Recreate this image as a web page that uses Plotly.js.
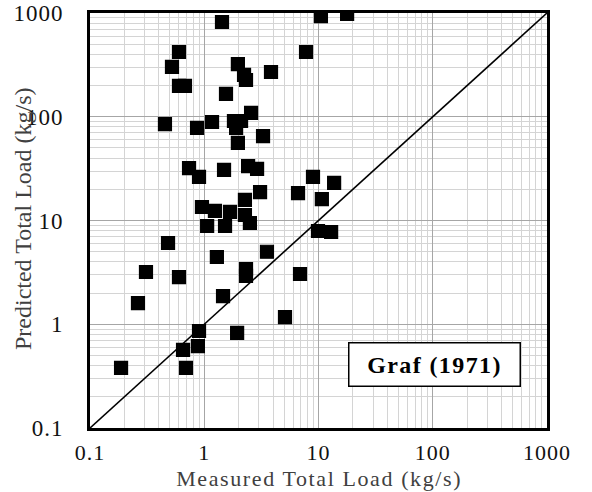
<!DOCTYPE html>
<html>
<head>
<meta charset="utf-8">
<script src="https://cdn.plot.ly/plotly-3.0.1.min.js"></script>
<style>
  html, body { margin: 0; padding: 0; background: #fff; }
  #chart { width: 592px; height: 492px; }
  /* slightly wider set for horizontal labels */
  #chart .xtick text, #chart .ytick text { letter-spacing: 1px; }
  #chart .annotation[data-index="0"] text { letter-spacing: 1.6px; }
  #chart .annotation[data-index="1"] text { letter-spacing: 1.4px; }
</style>
</head>
<body>
<div id="chart"></div>
<script>
// Measured vs predicted total sediment load, Graf (1971) formula
var measured = [
  1.43, 10.5, 17.8, 7.78, 0.601, 0.522, 0.601, 0.678, 1.97, 2.23,
  2.32, 3.84, 1.55, 0.453, 0.865, 1.17, 1.82, 2.10, 1.90, 2.57,
  3.27, 1.97, 0.736, 0.90, 1.49, 2.42, 2.90, 3.08, 8.95, 13.7,
  6.62, 10.7, 9.9, 12.9, 3.54, 2.32, 2.32, 6.89, 1.46, 5.09,
  1.94, 0.482, 1.29, 0.309, 0.601, 0.263, 0.90, 0.88, 0.652, 0.187,
  0.692, 0.955, 1.24, 1.68, 2.27, 2.27, 2.51, 1.06, 1.52
];
var predicted = [
  819, 935, 978, 421, 421, 302, 198, 198, 322, 253,
  226, 270, 166, 85, 78, 89, 91, 91, 78, 109,
  65, 56, 32, 26.3, 30.7, 33.5, 31.4, 18.8, 26.3, 23,
  18.4, 16.1, 7.92, 7.75, 5.0, 3.41, 2.92, 3.05, 1.87, 1.17,
  0.824, 6.07, 4.45, 3.19, 2.85, 1.60, 0.861, 0.616, 0.565, 0.379,
  0.379, 13.5, 12.4, 12.1, 15.8, 11.3, 9.46, 8.85, 8.85
];

// Line of perfect agreement spanning the axis range
var lineOfAgreement = [0.1, 1000];

var tickValues = [0.1, 1, 10, 100, 1000];
var tickLabels = ['0.1', '1', '10', '100', '1000'];

var xTitle = 'Measured Total Load (kg/s)';
var yTitle = 'Predicted Total Load (kg/s)';
var boxLabel = 'Graf (1971)';

var serif = 'Liberation Serif, Times New Roman, serif';

function logAxis(fontSize) {
  return {
    type: 'log',
    range: [-1, 3],
    tickvals: tickValues,
    ticktext: tickLabels,
    ticks: '',
    tickfont: { family: serif, size: fontSize, color: '#111' },
    showgrid: true,
    gridcolor: '#a6a6a6',
    gridwidth: 1,
    minor: { dtick: 'D1', showgrid: true, gridcolor: '#d4d4d4', gridwidth: 1, ticks: '' },
    showline: true,
    linecolor: '#000',
    linewidth: 3,
    mirror: true,
    zeroline: false,
    fixedrange: true
  };
}

var xaxis = logAxis(22);
xaxis.ticklabelstandoff = 3;
var yaxis = logAxis(23);
yaxis.ticklabelstandoff = 19;

var traces = [
  {
    x: lineOfAgreement,
    y: lineOfAgreement,
    mode: 'lines',
    line: { color: '#000', width: 1.6 },
    hoverinfo: 'skip',
    showlegend: false
  },
  {
    x: measured,
    y: predicted,
    mode: 'markers',
    marker: { symbol: 'square', size: 13, color: '#000', line: { color: '#000', width: 1.2 } },
    showlegend: false
  }
];

var layout = {
  width: 592,
  height: 492,
  margin: { l: 90, r: 45, t: 13, b: 64 },
  paper_bgcolor: '#fff',
  plot_bgcolor: '#fff',
  xaxis: xaxis,
  yaxis: yaxis,
  showlegend: false,
  annotations: [
    {
      // x-axis title
      xref: 'paper', yref: 'paper',
      x: 0.5, y: -0.122,
      xanchor: 'center', yanchor: 'middle',
      text: xTitle,
      showarrow: false,
      font: { family: serif, size: 22, color: '#404040' }
    },
    {
      // boxed formula label
      xref: 'paper', yref: 'paper',
      x: 0.753, y: 0.152,
      xanchor: 'center', yanchor: 'middle',
      text: '<b>' + boxLabel + '</b>',
      showarrow: false,
      font: { family: serif, size: 24, color: '#000' },
      bgcolor: '#fff',
      bordercolor: '#000',
      borderwidth: 1.5,
      width: 168,
      height: 40
    },
    {
      // y-axis title
      xref: 'paper', yref: 'paper',
      x: -0.1466, y: 0.5036,
      xanchor: 'center', yanchor: 'middle',
      textangle: -90,
      text: yTitle,
      showarrow: false,
      font: { family: serif, size: 24, color: '#404040' }
    }
  ]
};

Plotly.newPlot('chart', traces, layout, { displayModeBar: false, staticPlot: true });
</script>
</body>
</html>
